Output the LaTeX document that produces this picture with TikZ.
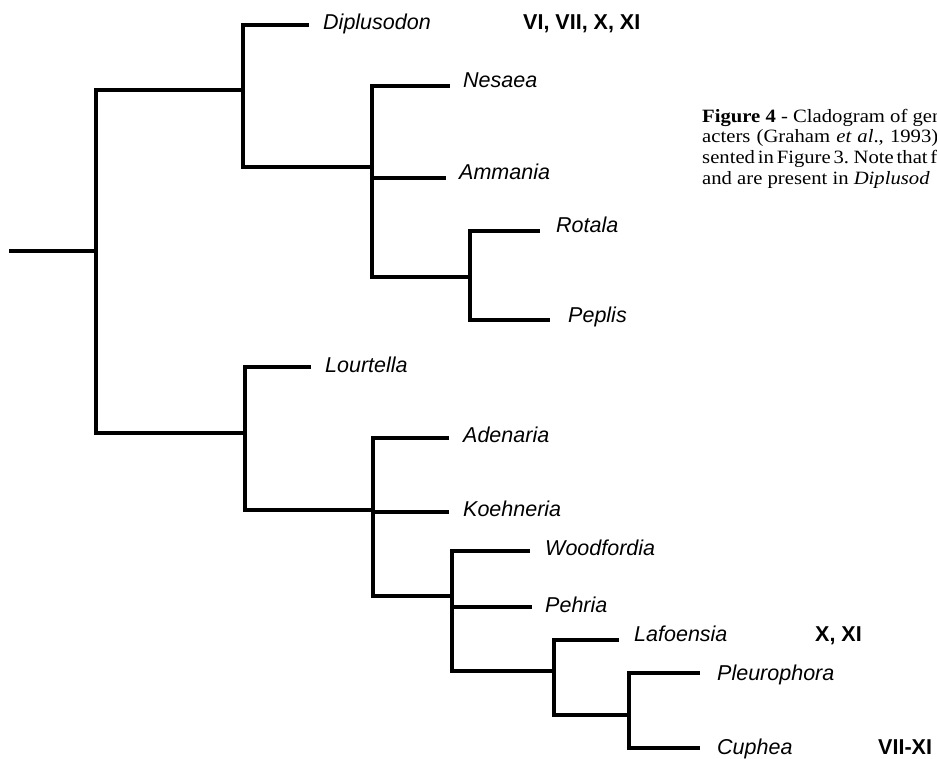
\documentclass[tikz,border=0pt]{standalone}
\usepackage{fontspec}
\setmainfont{Liberation Serif}
\newfontfamily\labfont{Liberation Sans}
\newfontfamily\capfont[FakeStretch=1.1]{Liberation Serif}
\tikzset{
  branch/.style={line width=4.4pt, line join=miter, line cap=butt, black},
  taxon/.style={anchor=base west, inner sep=0pt, font=\labfont\itshape\fontsize{21.5}{24}\selectfont},
  chars/.style={anchor=base west, inner sep=0pt, font=\labfont\bfseries\fontsize{21.5}{24}\selectfont},
  capline/.style={anchor=base west, inner sep=0pt, font=\capfont\fontsize{18.8}{20.7}\selectfont}
}
\begin{document}
\begin{tikzpicture}[x=1pt,y=-1pt]
\useasboundingbox (0,0) rectangle (937,758);
% internal nodes
\coordinate (r0) at (9,251);
\coordinate (n1) at (96,251);
\coordinate (n2) at (243,90);
\coordinate (n3) at (372,167);
\coordinate (n4) at (470,277);
\coordinate (n5) at (245,433);
\coordinate (n6) at (373,510);
\coordinate (n7) at (452,596);
\coordinate (n8) at (554,671);
\coordinate (n9) at (629,715);
% tips
\coordinate (tDip) at (309,25);
\coordinate (tNes) at (450,86);
\coordinate (tAmm) at (446,178);
\coordinate (tRot) at (540,231);
\coordinate (tPep) at (550,320);
\coordinate (tLou) at (311,367);
\coordinate (tAde) at (449,438);
\coordinate (tKoe) at (449,512);
\coordinate (tWoo) at (530,551);
\coordinate (tPeh) at (532,607);
\coordinate (tLaf) at (619,640);
\coordinate (tPle) at (700,673);
\coordinate (tCup) at (700,748);
% branches
\draw[branch] (r0) -- (n1);
\draw[branch] (n2) -| (n1);
\draw[branch] (n5) -| (n1);
\draw[branch] (tDip) -| (n2);
\draw[branch] (n3) -| (n2);
\draw[branch] (tNes) -| (n3);
\draw[branch] (tAmm) -| (n3);
\draw[branch] (n4) -| (n3);
\draw[branch] (tRot) -| (n4);
\draw[branch] (tPep) -| (n4);
\draw[branch] (tLou) -| (n5);
\draw[branch] (n6) -| (n5);
\draw[branch] (tAde) -| (n6);
\draw[branch] (tKoe) -| (n6);
\draw[branch] (n7) -| (n6);
\draw[branch] (tWoo) -| (n7);
\draw[branch] (tPeh) -| (n7);
\draw[branch] (n8) -| (n7);
\draw[branch] (tLaf) -| (n8);
\draw[branch] (n9) -| (n8);
\draw[branch] (tPle) -| (n9);
\draw[branch] (tCup) -| (n9);
% taxon labels
\node[taxon] (lDip) at (323,29) {Diplusodon};
\node[taxon] (lNes) at (463,87) {Nesaea};
\node[taxon] (lAmm) at (459,179) {Ammania};
\node[taxon] (lRot) at (556,232) {Rotala};
\node[taxon] (lPep) at (568,322) {Peplis};
\node[taxon] (lLou) at (325,372) {Lourtella};
\node[taxon] (lAde) at (463,442) {Adenaria};
\node[taxon] (lKoe) at (463,516) {Koehneria};
\node[taxon] (lWoo) at (545,555) {Woodfordia};
\node[taxon] (lPeh) at (545,612) {Pehria};
\node[taxon] (lLaf) at (634,641) {Lafoensia};
\node[taxon] (lPle) at (717,680) {Pleurophora};
\node[taxon] (lCup) at (717,754) {Cuphea};
% character labels
\node[chars] (cDip) at (523,29) {VI, VII, X, XI};
\node[chars] (cLaf) at (815,641) {X, XI};
\node[chars] (cCup) at (878,754) {VII-XI};
% caption (cut at the right edge, as in the reference)
\node[capline] (cap1) at (702,122) {\textbf{Figure 4} - Cladogram of gen};
\node[capline] (cap2) at (702,142.7) {\spaceskip=0.33em acters (Graham \textit{et al}., 1993)};
\node[capline] (cap3) at (702,163.4) {\spaceskip=0.15em sented in Figure 3. Note that f};
\node[capline] (cap4) at (702,184.1) {and are present in \textit{Diplusod}};
\end{tikzpicture}
\end{document}
